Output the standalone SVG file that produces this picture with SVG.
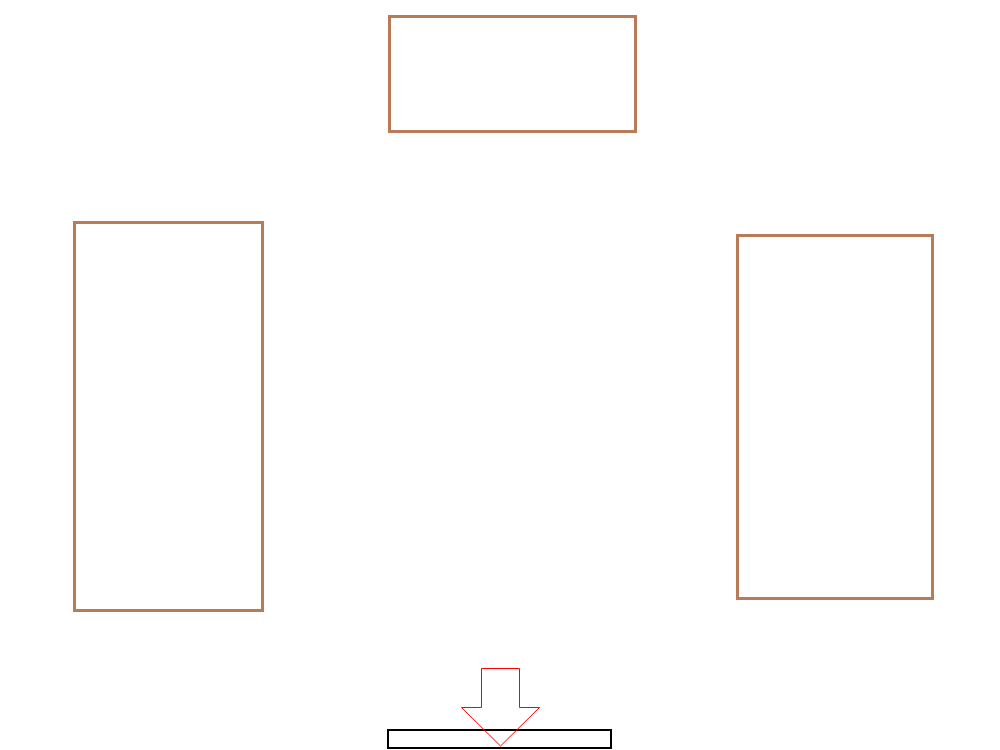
<svg xmlns="http://www.w3.org/2000/svg" width="1000" height="750" viewBox="0 0 1000 750">
<style>
.box{fill:#ffffff;stroke:#b97b57;stroke-width:3}
.bar{fill:#ffffff;stroke:#000000;stroke-width:2}
.arrow{fill:none;stroke:#ff0000;stroke-width:1}
</style>
<rect width="1000" height="750" fill="#ffffff"/>
<g id="top-box"><rect class="box" x="389.5" y="16.5" width="246" height="115"/></g>
<g id="left-box"><rect class="box" x="74.5" y="222.5" width="188" height="388"/></g>
<g id="right-box"><rect class="box" x="737.5" y="235.5" width="195" height="363"/></g>
<g id="bottom-bar"><rect class="bar" x="388" y="730" width="223" height="18"/></g>
<g id="connectors"><polygon class="arrow" points="481.5,668.5 519.5,668.5 519.5,707.5 539.5,707.5 500.5,746 461.5,707.5 481.5,707.5"/></g>
</svg>
